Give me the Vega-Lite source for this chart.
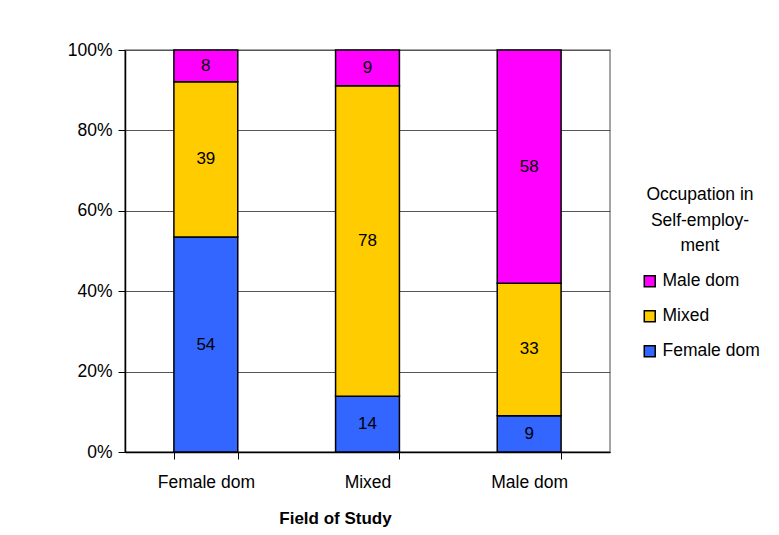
{
  "$schema": "https://vega.github.io/schema/vega-lite/v6.json",
  "width": 485,
  "height": 402,
  "autosize": "none",
  "padding": {"left": 125, "top": 50, "right": 169, "bottom": 83},
  "background": "white",
  "config": {
    "font": "Liberation Sans",
    "view": {"stroke": "#888888", "strokeWidth": 1.5}
  },
  "data": {
    "values": [
      {"field": "Female dom", "occ": "Female dom", "ord": 1, "value": 54},
      {"field": "Female dom", "occ": "Mixed", "ord": 2, "value": 39},
      {"field": "Female dom", "occ": "Male dom", "ord": 3, "value": 8},
      {"field": "Mixed", "occ": "Female dom", "ord": 1, "value": 14},
      {"field": "Mixed", "occ": "Mixed", "ord": 2, "value": 78},
      {"field": "Mixed", "occ": "Male dom", "ord": 3, "value": 9},
      {"field": "Male dom", "occ": "Female dom", "ord": 1, "value": 9},
      {"field": "Male dom", "occ": "Mixed", "ord": 2, "value": 33},
      {"field": "Male dom", "occ": "Male dom", "ord": 3, "value": 58}
    ]
  },
  "transform": [
    {"stack": "value", "groupby": ["field"], "sort": [{"field": "ord"}], "offset": "normalize", "as": ["y0", "y1"]},
    {"calculate": "(datum.y0 + datum.y1) / 2", "as": "ymid"}
  ],
  "encoding": {
    "x": {
      "field": "field",
      "type": "nominal",
      "sort": ["Female dom", "Mixed", "Male dom"],
      "scale": {"paddingInner": 0.605, "paddingOuter": 0.3025},
      "axis": {
        "title": "Field of Study",
        "titleFontSize": 17,
        "titleFontWeight": "bold",
        "titleColor": "black",
        "titlePadding": 20,
        "titleX": 210,
        "labelAngle": 0,
        "labelFontSize": 17.5,
        "labelColor": "black",
        "labelPadding": 14,
        "tickBand": "extent",
        "tickColor": "black",
        "tickSize": 7,
        "domainColor": "black",
        "domainWidth": 1.5,
        "grid": false
      }
    }
  },
  "layer": [
    {
      "mark": {"type": "bar", "stroke": "black", "strokeWidth": 1.5},
      "encoding": {
        "y": {
          "field": "y0",
          "type": "quantitative",
          "scale": {"domain": [0, 1]},
          "axis": {
            "format": ".0%",
            "values": [0, 0.2, 0.4, 0.6, 0.8, 1],
            "title": null,
            "labelFontSize": 17.5,
            "labelColor": "black",
            "labelPadding": 6,
            "tickColor": "black",
            "tickSize": 7,
            "domainColor": "black",
            "domainWidth": 1.5,
            "grid": true,
            "gridColor": "#555555",
            "gridWidth": 1
          }
        },
        "y2": {"field": "y1"},
        "color": {
          "field": "occ",
          "type": "nominal",
          "sort": ["Male dom", "Mixed", "Female dom"],
          "scale": {"domain": ["Male dom", "Mixed", "Female dom"], "range": ["#FF00FF", "#FFCC00", "#3366FF"]},
          "legend": {
            "title": ["Occupation in", "Self-employ-", "ment"],
            "orient": "none",
            "legendX": 516,
            "legendY": 136,
            "titleFontSize": 17.5,
            "titleFontWeight": "normal",
            "titleColor": "black",
            "titleAlign": "center",
            "titleAnchor": "middle",
            "titleLineHeight": 25.5,
            "titlePadding": 18,
            "labelFontSize": 17.5,
            "labelColor": "black",
            "labelOffset": 4,
            "symbolType": "square",
            "symbolSize": 120,
            "symbolStrokeColor": "black",
            "symbolStrokeWidth": 1.5,
            "symbolOpacity": 1,
            "rowPadding": 16
          }
        }
      }
    },
    {
      "mark": {"type": "text", "fontSize": 17, "color": "black"},
      "encoding": {
        "y": {"field": "ymid", "type": "quantitative"},
        "text": {"field": "value", "type": "quantitative"}
      }
    }
  ]
}
